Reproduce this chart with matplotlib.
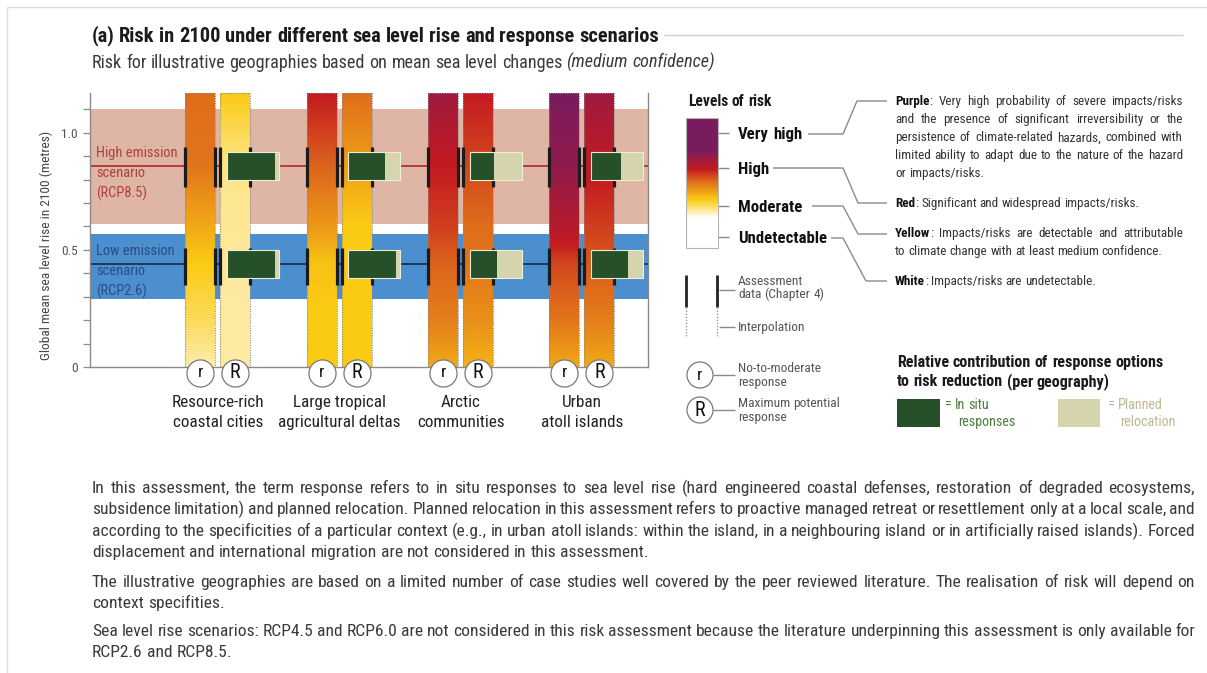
import numpy as np
import matplotlib
matplotlib.use("Agg")
import matplotlib.pyplot as plt
from matplotlib import font_manager
from matplotlib.colors import LinearSegmentedColormap
from matplotlib.patches import Rectangle, Circle

W, H = 1207, 673

# pick a narrow / condensed sans if one is installed
ttf = font_manager.fontManager.ttflist
names = {f.name for f in ttf}
FONT, STRETCH = "DejaVu Sans", "normal"
for p in ["Liberation Sans Narrow", "Arial Narrow", "Roboto Condensed", "Open Sans Condensed",
          "Noto Sans Condensed", "DejaVu Sans Condensed"]:
    if p in names:
        FONT = p
        break
else:
    for fam in ["Noto Sans", "Open Sans", "Roboto", "DejaVu Sans", "Liberation Sans"]:
        if any(f.name == fam and str(f.stretch) in ("condensed", "semi-condensed") for f in ttf):
            FONT, STRETCH = fam, "condensed"
            break
plt.rcParams["font.family"] = [FONT, "DejaVu Sans"]
plt.rcParams["font.stretch"] = STRETCH

# ---------------- data ----------------
geographies = ["Resource-rich\ncoastal cities", "Large tropical\nagricultural deltas",
               "Arctic\ncommunities", "Urban\natoll islands"]
responses = ["r", "R"]
scenario_names = ["High emission\nscenario\n(RCP8.5)", "Low emission\nscenario\n(RCP2.6)"]
slr_median = [0.86, 0.44]
slr_band_low = [0.61, 0.29]
slr_band_high = [1.10, 0.57]
assess_low = [0.77, 0.35]
assess_high = [0.94, 0.51]

# risk level: 0 undetectable, 1 moderate, 2 high, 3 very high
risk_heights = [0.0, 0.2, 0.44, 0.6, 0.86, 1.17]
risk_no_to_moderate = [
    [0.35, 0.7, 1.0, 1.2, 1.5, 1.55],
    [1.0, 1.0, 1.05, 1.3, 1.6, 2.0],
    [1.2, 1.45, 1.6, 1.8, 2.0, 2.5],
    [1.2, 1.5, 1.75, 2.2, 2.7, 3.0],
]
risk_max_potential = [
    [0.4, 0.4, 0.42, 0.45, 0.5, 1.0],
    [1.0, 1.0, 1.0, 1.0, 1.25, 1.55],
    [1.15, 1.35, 1.5, 1.55, 1.75, 2.0],
    [1.2, 1.45, 1.65, 1.8, 2.05, 2.5],
]
insitu_share_high = [0.93, 0.71, 0.46, 0.58]
insitu_share_low = [0.93, 0.92, 0.52, 0.71]

risk_levels = ["Very high", "High", "Moderate", "Undetectable"]

# ---------------- style ----------------
risk_cmap = LinearSegmentedColormap.from_list(
    "risk", [(0, "#ffffff"), (1 / 3, "#fbcb14"), (0.5, "#e2761b"), (2 / 3, "#c41a20"), (1, "#7a1c5e")])
GREEN, BEIGE = "#25502a", "#d6d4ac"
YTOP = 1.17
OFF, BW = 0.144, 0.247
BOXW, BOXH = 0.428, 0.12

fig = plt.figure(figsize=(W / 100, H / 100), dpi=100)
fig.patch.set_facecolor("white")
renderer = fig.canvas.get_renderer()

# scale all type so a reference sentence at 13 pt spans 550 px
_t = fig.text(0, 0, "displacement and international migration are not considered in this assessment.",
              fontsize=13)
K = 550.0 / _t.get_window_extent(renderer).width
_t.remove()

# ---------------- main chart ----------------
ax = fig.add_axes([90 / W, 1 - 367 / H, 558 / W, 274 / H])
ax.axhspan(slr_band_low[0], slr_band_high[0], color="#dfb6a6", lw=0, zorder=0)
ax.axhspan(slr_band_low[1], slr_band_high[1], color="#4b8fce", lw=0, zorder=0)
ax.axhline(slr_median[0], color="#b3332e", lw=1.3, zorder=1)
ax.axhline(slr_median[1], color="#1d2f52", lw=1.3, zorder=1)

yy = np.linspace(0, YTOP, 400)
for i in range(len(geographies)):
    for prof, off in ((risk_no_to_moderate[i], -OFF), (risk_max_potential[i], OFF)):
        xc = i + off
        rr = np.interp(yy, risk_heights, prof)
        img = risk_cmap(rr / 3.0)[:, None, :3]
        ax.imshow(img, extent=[xc - BW / 2, xc + BW / 2, 0, YTOP], origin="lower",
                  aspect="auto", interpolation="bilinear", zorder=2)
        ax.add_patch(Rectangle((xc - BW / 2, 0), BW, YTOP, fill=False, ec="#8c8c8c",
                               lw=0.8, ls=(0, (1, 1.2)), zorder=3))
        for lo, hi in zip(assess_low, assess_high):
            ax.vlines([xc - BW / 2, xc + BW / 2], lo, hi, color="#1b1b1b", lw=2.3, zorder=4)

# relative contribution of in situ responses vs planned relocation
for i in range(len(geographies)):
    x0 = i + OFF - 0.068
    for mid, share in ((slr_median[0], insitu_share_high[i]), (slr_median[1], insitu_share_low[i])):
        ax.add_patch(Rectangle((x0, mid - BOXH / 2), BOXW, BOXH, fc=BEIGE, ec="none", zorder=5))
        ax.add_patch(Rectangle((x0, mid - BOXH / 2), BOXW * share, BOXH, fc=GREEN, ec="none", zorder=6))
        ax.add_patch(Rectangle((x0, mid - BOXH / 2), BOXW, BOXH, fill=False, ec="#eeedd6", lw=0.8, zorder=7))

for i, name in enumerate(geographies):
    for off, lab, fs in ((-OFF, responses[0], 13), (OFF, responses[1], 15)):
        ax.plot(i + off, -0.027, "o", ms=19.5, mfc="white", mec="#7a7a7a", mew=0.9,
                clip_on=False, zorder=8)
        ax.text(i + off, -0.024, lab, ha="center", va="center", fontsize=fs * K,
                color="#111", zorder=9, clip_on=False)
    for j, line in enumerate(name.split("\n")):
        ax.text(i, -0.150 - 0.089 * j, line, ha="center", va="center", fontsize=12.8 * K,
                color="#222", clip_on=False)

for k, name in enumerate(scenario_names):
    col = "#b0403c" if k == 0 else "#2c4c86"
    y0 = [0.915, 0.495][k]
    for j, line in enumerate(name.split("\n")):
        ax.text(-1.0, y0 - 0.087 * j, line, ha="left", va="center", fontsize=10.8 * K,
                color=col, zorder=3)

ax.set_xlim(-1.053, 3.544)
ax.set_ylim(0, YTOP)
ax.set_xticks([])
ax.set_yticks([0, 0.5, 1.0], ["0", "0.5", "1.0"])
ax.set_yticks([0.1, 0.2, 0.3, 0.4, 0.6, 0.7, 0.8, 0.9, 1.1], minor=True)
ax.tick_params(axis="y", which="both", direction="out", length=5, width=0.9,
               color="#8a8a8a", labelcolor="#555", labelsize=10 * K, pad=4)
for s in ("left", "bottom", "right"):
    ax.spines[s].set_color("#8a8a8a")
    ax.spines[s].set_linewidth(1)
ax.spines["top"].set_visible(False)

# ---------------- overlay in pixel coordinates ----------------
ov = fig.add_axes([0, 0, 1, 1], zorder=5)
ov.patch.set_visible(False)
ov.axis("off")


def baseline(y, size):
    return y + 0.33 * size * 100 / 72


def split_words(segs):
    words, new = [], True
    for txt, st in segs:
        for n, tok in enumerate(txt.split(" ")):
            if n > 0:
                new = True
            if tok == "":
                continue
            if new or not words:
                words.append([(tok, st)])
            else:
                words[-1].append((tok, st))
            new = False
    return words


def text_line(x, y, segs, size, color="#333", width=None, bold_color="#111"):
    size = size * K
    if isinstance(segs, str):
        segs = [(segs, "n")]
    placed = []
    for word in split_words(segs):
        pieces = []
        for txt, st in word:
            t = ov.text(0, baseline(y, size), txt, fontsize=size, va="baseline", ha="left",
                        color=bold_color if st == "b" else color,
                        fontweight="bold" if st == "b" else "normal",
                        fontstyle="italic" if st == "i" else "normal")
            pieces.append((t, t.get_window_extent(renderer).width))
        placed.append(pieces)
    a = ov.text(0, 0, "n n", fontsize=size)
    b = ov.text(0, 0, "nn", fontsize=size)
    sp = a.get_window_extent(renderer).width - b.get_window_extent(renderer).width
    a.remove()
    b.remove()
    widths = [sum(w for _, w in p) for p in placed]
    gap = sp
    if width is not None and len(placed) > 1:
        gap = max((width - sum(widths)) / (len(placed) - 1), 0.5 * sp)
    cx = x
    for pieces in placed:
        for t, w in pieces:
            t.set_x(cx)
            cx += w
        cx += gap


def poly(pts, **kw):
    xs, ys = zip(*pts)
    ov.plot(xs, ys, solid_capstyle="butt", **kw)


# frame and title
poly([(7, 7), (W, 7)], color="#dcdcdc", lw=1)
poly([(7, 7), (7, H)], color="#dcdcdc", lw=1)
poly([(664, 35), (1183, 35)], color="#cfcfcf", lw=1)
text_line(92, 35, [("(a) Risk in 2100 under different sea level rise and response scenarios", "b")], 15.2,
          bold_color="#1a1a1a")
text_line(92, 62, [("Risk for illustrative geographies based on mean sea level changes ", "n"),
                   ("(medium confidence)", "i")], 13.5, color="#3a3a3a")
ov.text(46, 245, "Global mean sea level rise in 2100 (metres)", rotation=90, ha="center",
        va="center", fontsize=10 * K, color="#444")

# levels of risk legend
text_line(688, 101, [("Levels of risk", "b")], 11.6, bold_color="#1a1a1a")
legend_y = [248, 218, 200, 183, 169, 150, 118]
legend_r = [0, 0, 1, 1.5, 2, 3, 3]
ly = np.linspace(248, 118, 300)
lr = np.interp(-ly, [-v for v in legend_y], legend_r)
ov.imshow(risk_cmap(lr / 3.0)[:, None, :3], extent=[686, 718, 248, 118], origin="lower",
          aspect="auto", interpolation="bilinear", zorder=2)
ov.add_patch(Rectangle((686, 118), 32, 130, fill=False, ec="#b5b5b5", lw=0.8, zorder=3))
level_y = [133, 168, 206, 237]
for lab, y in zip(risk_levels, level_y):
    poly([(718, y), (729, y)], color="#8a8a8a", lw=1)
    text_line(738, y, [(lab, "b")], 12.5, bold_color="#111")

connectors = [
    [(808, 134), (843, 134), (857, 101), (887, 101)],
    [(773, 168), (843, 168), (858, 203), (887, 203)],
    [(812, 206), (843, 206), (858, 234), (887, 234)],
    [(831, 238), (843, 238), (866, 281), (887, 281)],
]
for c in connectors:
    poly(c, color="#8a8a8a", lw=1)

desc = [
    (101, [("Purple", "b"), (": Very high probability of severe impacts/risks", "n")], True),
    (119, [("and the presence of significant irreversibility or the", "n")], True),
    (137, [("persistence of climate-related hazards, combined with", "n")], True),
    (155, [("limited ability to adapt due to the nature of the hazard", "n")], True),
    (173, [("or impacts/risks.", "n")], False),
    (203, [("Red", "b"), (": Significant and widespread impacts/risks.", "n")], False),
    (233, [("Yellow", "b"), (": Impacts/risks are detectable and attributable", "n")], True),
    (251, [("to climate change with at least medium confidence.", "n")], False),
    (281, [("White", "b"), (": Impacts/risks are undetectable.", "n")], False),
]
for y, segs, just in desc:
    text_line(895, y, segs, 9.8, color="#333", width=288 if just else None)

# assessment / interpolation legend
for x in (686, 717):
    poly([(x, 275), (x, 307)], color="#222", lw=2)
    poly([(x, 307), (x, 337)], color="#999", lw=1, ls=(0, (1, 1.2)))
poly([(719, 290), (735, 290)], color="#8a8a8a", lw=1)
poly([(719, 327), (735, 327)], color="#8a8a8a", lw=1)
text_line(738, 281, "Assessment", 10, color="#555")
text_line(738, 294, "data (Chapter 4)", 10, color="#555")
text_line(738, 327, "Interpolation", 10, color="#555")

# response legend
for (cy, lab, fs), lines in zip(((375, responses[0], 13), (410, responses[1], 15)),
                                (("No-to-moderate", "response"), ("Maximum potential", "response"))):
    ov.add_patch(Circle((700, cy), 13, fc="white", ec="#7a7a7a", lw=0.9))
    ov.text(700, cy + 1, lab, ha="center", va="center", fontsize=fs * K, color="#111")
    poly([(713, cy), (735, cy)], color="#8a8a8a", lw=1)
    text_line(738, cy - 7, lines[0], 10, color="#555")
    text_line(738, cy + 7, lines[1], 10, color="#555")

# response options legend
text_line(897, 362, [("Relative contribution of response options", "b")], 12, bold_color="#1a1a1a")
text_line(897, 381, [("to risk reduction (per geography)", "b")], 12, bold_color="#1a1a1a")
ov.add_patch(Rectangle((897, 399), 43, 28, fc=GREEN, ec="none"))
ov.add_patch(Rectangle((1058, 399), 42, 28, fc=BEIGE, ec="none"))
text_line(945, 404, "= In situ", 10.5, color="#4e7d3e")
text_line(958, 421, "responses", 10.5, color="#4e7d3e")
text_line(1108, 404, "= Planned", 10.5, color="#bdb993")
text_line(1120, 421, "relocation", 10.5, color="#bdb993")

# notes
notes = [
    (487, "In this assessment, the term response refers to in situ responses to sea level rise (hard engineered coastal defenses, restoration of degraded ecosystems,", True),
    (508, "subsidence limitation) and planned relocation. Planned relocation in this assessment refers to proactive managed retreat or resettlement only at a local scale, and", True),
    (530, "according to the specificities of a particular context (e.g., in urban atoll islands: within the island, in a neighbouring island or in artificially raised islands). Forced", True),
    (551, "displacement and international migration are not considered in this assessment.", False),
    (581, "The illustrative geographies are based on a limited number of case studies well covered by the peer reviewed literature. The realisation of risk will depend on", True),
    (602, "context specifities.", False),
    (630, "Sea level rise scenarios: RCP4.5 and RCP6.0 are not considered in this risk assessment because the literature underpinning this assessment is only available for", True),
    (651, "RCP2.6 and RCP8.5.", False),
]
for y, line, just in notes:
    text_line(92, y, line, 13, color="#3a3a3a", width=1103 if just else None)

ov.set_xlim(0, W)
ov.set_ylim(H, 0)

fig.savefig("out.png", dpi=100)
